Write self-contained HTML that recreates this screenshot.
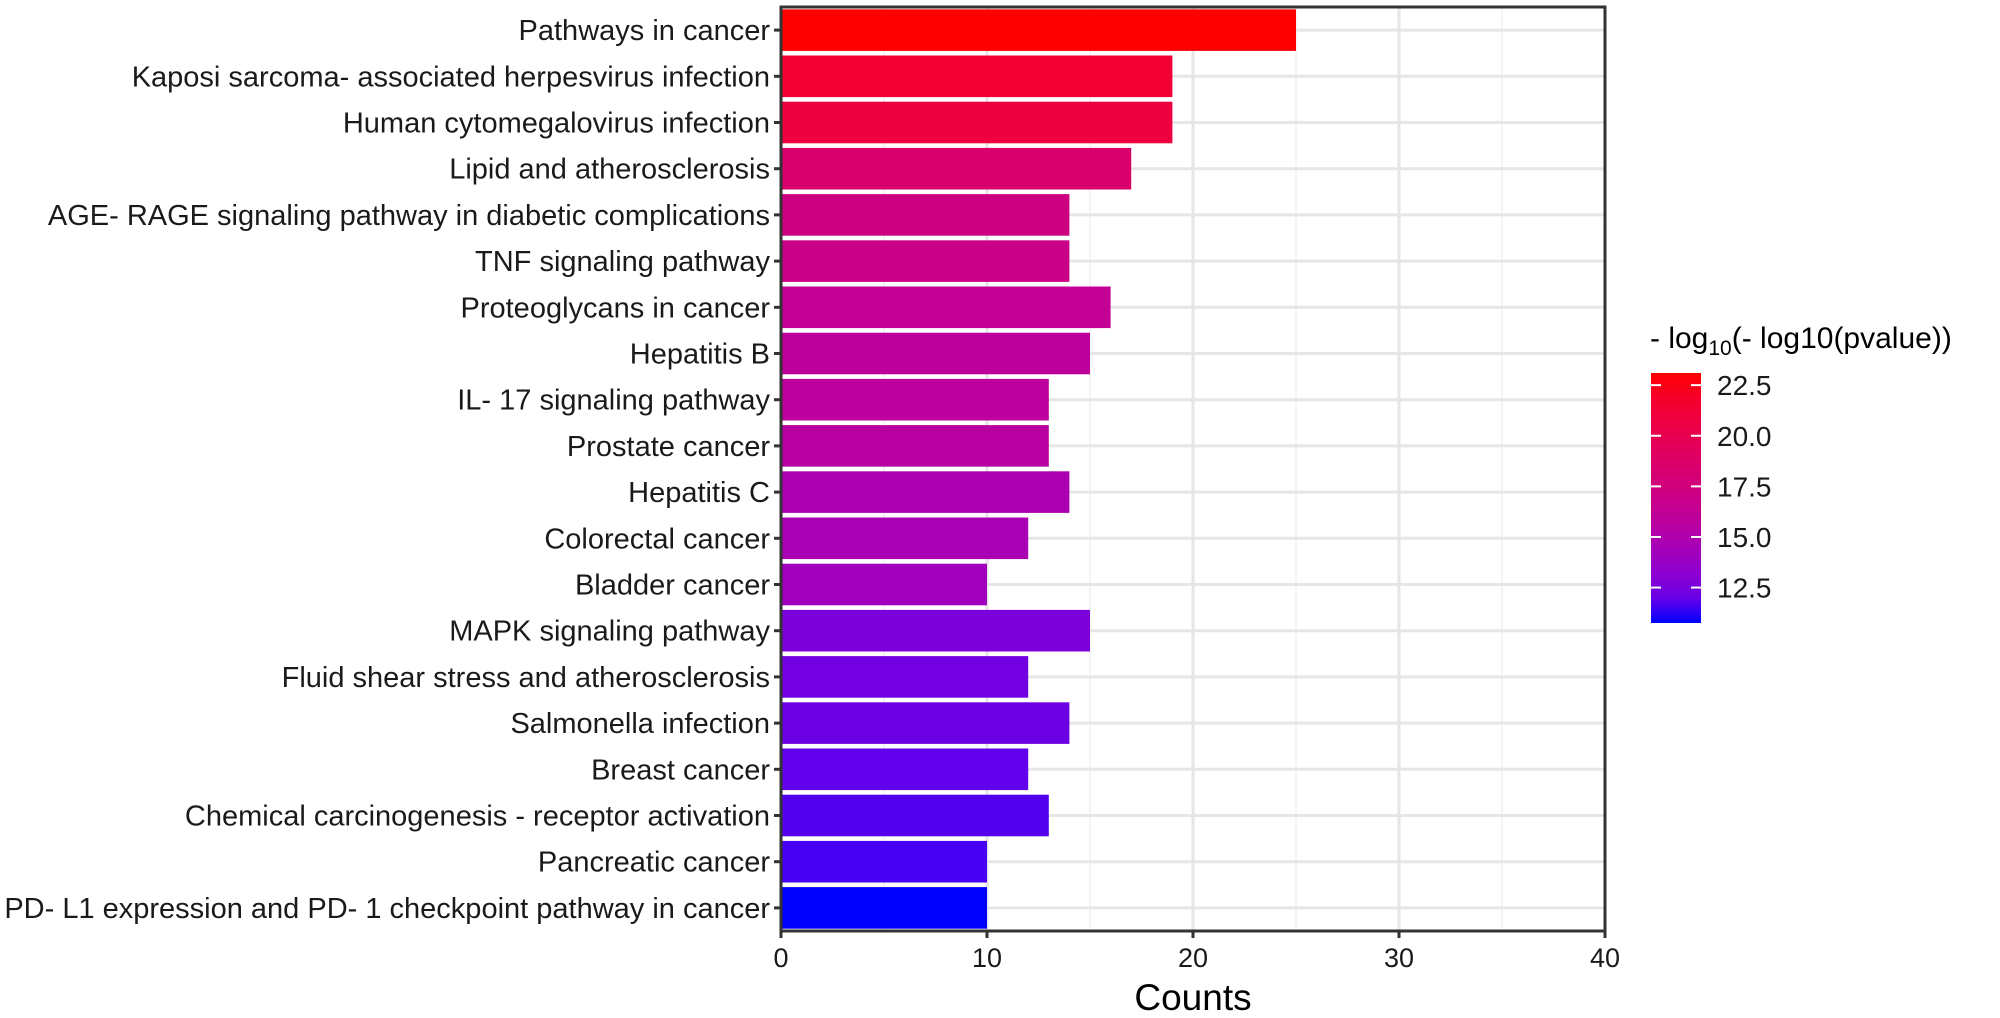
<!DOCTYPE html>
<html><head><meta charset="utf-8">
<style>
html,body{margin:0;padding:0;background:#fff;}
svg{display:block;font-family:"Liberation Sans",Arial,sans-serif;}
</style></head>
<body>
<svg id="chart" width="2000" height="1018" viewBox="0 0 2000 1018" xmlns="http://www.w3.org/2000/svg">
<defs>
<linearGradient id="legGrad" x1="0" y1="1" x2="0" y2="0"></linearGradient>
</defs>
<g id="grid"></g>
<g id="bars"></g>
<g id="axes"></g>
<g id="legend"></g>
</svg>
<script>
const categories = ["Pathways in cancer","Kaposi sarcoma- associated herpesvirus infection","Human cytomegalovirus infection","Lipid and atherosclerosis","AGE- RAGE signaling pathway in diabetic complications","TNF signaling pathway","Proteoglycans in cancer","Hepatitis B","IL- 17 signaling pathway","Prostate cancer","Hepatitis C","Colorectal cancer","Bladder cancer","MAPK signaling pathway","Fluid shear stress and atherosclerosis","Salmonella infection","Breast cancer","Chemical carcinogenesis -  receptor activation","Pancreatic cancer","PD- L1 expression and PD- 1 checkpoint pathway in cancer"];
const counts = [25,19,19,17,14,14,16,15,13,13,14,12,10,15,12,14,12,13,10,10];
const colorValues = [23.1,21.5,20.8,18.5,17.3,17.0,16.3,16.0,15.8,15.6,14.8,14.6,14.1,12.6,12.3,12.1,11.8,11.5,11.3,10.75];
const xTicks = [0,10,20,30,40];
const xMinor = [5,15,25,35];
const legendTicks = [12.5,15.0,17.5,20.0,22.5];

const NS="http://www.w3.org/2000/svg";
const L=781,R=1605,T=7,B=931;
const xMax=40;
const x=v=>L+(v/xMax)*(R-L);
const band=(B-T)/categories.length;
const yc=i=>T+band*(i+0.5);
const cMin=10.75, cMax=23.1;
function srgb2lin(c){c/=255;return c<=0.04045?c/12.92:Math.pow((c+0.055)/1.055,2.4);}
function lin2srgb(c){c=c<=0.0031308?12.92*c:1.055*Math.pow(c,1/2.4)-0.055;return Math.round(Math.max(0,Math.min(1,c))*255);}
function toLab(r,g,b){r=srgb2lin(r);g=srgb2lin(g);b=srgb2lin(b);
 let X=(0.4124*r+0.3576*g+0.1805*b)/0.95047,Y=0.2126*r+0.7152*g+0.0722*b,Z=(0.0193*r+0.1192*g+0.9505*b)/1.08883;
 const f=t=>t>0.008856?Math.cbrt(t):7.787*t+16/116;
 return [116*f(Y)-16,500*(f(X)-f(Y)),200*(f(Y)-f(Z))];}
function fromLab(Lc,a,bb){let fy=(Lc+16)/116,fx=fy+a/500,fz=fy-bb/200;
 const fi=t=>t>0.206893?t*t*t:(t-16/116)/7.787;
 let X=fi(fx)*0.95047,Y=fi(fy),Z=fi(fz)*1.08883;
 let r=3.2406*X-1.5372*Y-0.4986*Z,g=-0.9689*X+1.8758*Y+0.0415*Z,b=0.0557*X-0.2040*Y+1.0570*Z;
 return "rgb("+lin2srgb(r)+","+lin2srgb(g)+","+lin2srgb(b)+")";}
const labLo=toLab(0,0,255),labHi=toLab(255,0,0);
function colorAt(t){t=Math.max(0,Math.min(1,t));return fromLab(labLo[0]+(labHi[0]-labLo[0])*t,labLo[1]+(labHi[1]-labLo[1])*t,labLo[2]+(labHi[2]-labLo[2])*t);}
const colorOf=v=>colorAt((v-cMin)/(cMax-cMin));
function mk(tag,attrs,parent){const e=document.createElementNS(NS,tag);for(const k in attrs)e.setAttribute(k,attrs[k]);parent.appendChild(e);return e;}

const grid=document.getElementById('grid');
mk('rect',{x:L,y:T,width:R-L,height:B-T,fill:'#fff'},grid);
xMinor.forEach(v=>{const l=mk('line',{x1:x(v),x2:x(v),y1:T,y2:B,stroke:'#f1f1f1','stroke-width':1.5},grid);

});
xTicks.forEach(v=>{const l=mk('line',{x1:x(v),x2:x(v),y1:T,y2:B,stroke:'#e6e6e6','stroke-width':3},grid);

});
categories.forEach((c,i)=>{const l=mk('line',{x1:L,x2:R,y1:yc(i),y2:yc(i),stroke:'#e6e6e6','stroke-width':3},grid);

});

const bars=document.getElementById('bars');
const axes=document.getElementById('axes');
categories.forEach((c,i)=>{
 const h=band*0.9;
 const r=mk('rect',{x:x(0),y:yc(i)-h/2,width:x(counts[i])-x(0),height:h,fill:colorOf(colorValues[i])},bars);
 
 
 const tk=mk('line',{x1:L-7,x2:L,y1:yc(i),y2:yc(i),stroke:'#333','stroke-width':3},axes);
 
 
 const t=mk('text',{x:L-11,y:yc(i)+10,'text-anchor':'end','font-size':29,fill:'#1a1a1a'},axes);
 t.textContent=c;
 
 
});
const border=mk('rect',{x:L,y:T,width:R-L,height:B-T,fill:'none',stroke:'#333','stroke-width':3},axes);


xTicks.forEach(v=>{
 const tk=mk('line',{x1:x(v),x2:x(v),y1:B,y2:B+7,stroke:'#333','stroke-width':3},axes);
 
 
 const t=mk('text',{x:x(v),y:B+36,'text-anchor':'middle','font-size':27,fill:'#1a1a1a'},axes);
 t.textContent=v;
 
 
});
const xt=mk('text',{x:(L+R)/2,y:1010,'text-anchor':'middle','font-size':37,fill:'#000'},axes);
xt.textContent='Counts';



const leg=document.getElementById('legend');
const LX=1651,LW=50,LT=373,LB=623;
const ly=v=>LB-(v-cMin)/(cMax-cMin)*(LB-LT);
const grad=document.getElementById('legGrad');
for(let k=0;k<=10;k++){mk('stop',{offset:(k*10)+'%','stop-color':colorAt(k/10)},grad);}
const lr=mk('rect',{x:LX,y:LT,width:LW,height:LB-LT,fill:'url(#legGrad)'},leg);


legendTicks.forEach(v=>{
 mk('line',{x1:LX,x2:LX+10,y1:ly(v),y2:ly(v),stroke:'#fff','stroke-width':2},leg);
 mk('line',{x1:LX+LW-10,x2:LX+LW,y1:ly(v),y2:ly(v),stroke:'#fff','stroke-width':2},leg);
 const t=mk('text',{x:LX+LW+16,y:ly(v)+10,'font-size':28,fill:'#1a1a1a'},leg);
 t.textContent=v.toFixed(1);
 
 
});
const lt=mk('text',{x:1650,y:348,'font-size':30,fill:'#000'},leg);


lt.innerHTML='- log<tspan font-size="21" dy="7">10</tspan><tspan dy="-7">(- log10(pvalue))</tspan>';
</script>
</body></html>
